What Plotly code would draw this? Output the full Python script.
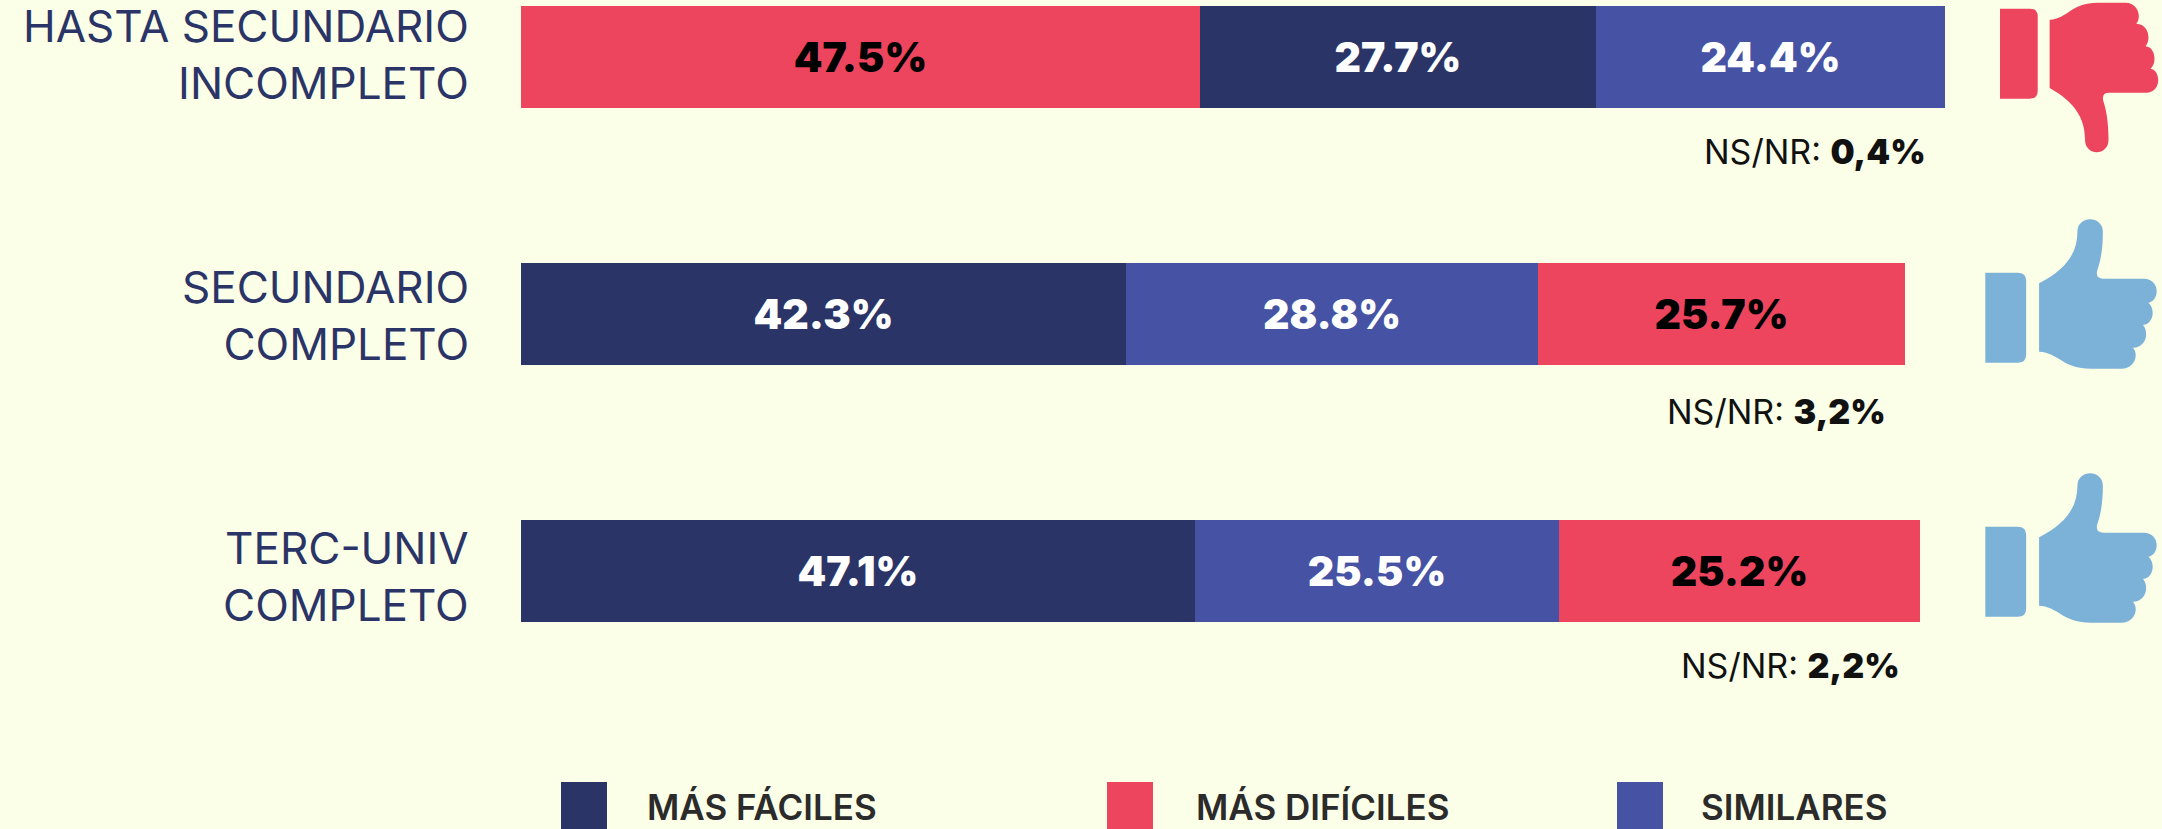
import plotly.graph_objects as go

categories = ["HASTA SECUNDARIO<br>INCOMPLETO", "SECUNDARIO<br>COMPLETO", "TERC-UNIV<br>COMPLETO"]
mas_faciles = [27.7, 42.3, 47.1]
mas_dificiles = [47.5, 25.7, 25.2]
similares = [24.4, 28.8, 25.5]
ns_nr = [0.4, 3.2, 2.2]
ns_labels = ["0,4%", "3,2%", "2,2%"]
series_names = ["MÁS FÁCILES", "MÁS DIFÍCILES", "SIMILARES"]
row_order = [[1, 0, 2], [0, 2, 1], [0, 2, 1]]

W, H = 2162, 829
BG = "#FBFFE7"
NAVY = "#2B3467"
RED = "#EE455F"
BLUE = "#4653A4"
SKY = "#7DB2D8"
colors = [NAVY, RED, BLUE]
text_colors = ["white", "black", "white"]
series = [mas_faciles, mas_dificiles, similares]
L, R = 521, 1951
FONT = "Inter"

bases = [[0.0] * 3 for _ in series]
for r, order in enumerate(row_order):
    acc = 0.0
    for s in order:
        bases[s][r] = acc
        acc += series[s][r]

fig = go.Figure()
for s, name in enumerate(series_names):
    fig.add_trace(go.Bar(
        y=categories, x=series[s], base=bases[s], name=name, orientation="h", width=0.4,
        marker=dict(color=colors[s], line=dict(width=0)),
        text=[f"{v:.1f}%" for v in series[s]], textposition="inside", insidetextanchor="middle",
        textangle=0, constraintext="none",
        textfont=dict(family=FONT, size=41, color=text_colors[s], weight=900),
        showlegend=False, hoverinfo="skip"))

def px(x): return (x - L) / (R - L)
def py(y): return 1 - y / H

annotations = []
label_shift = [-3, 1.5, 5]
for i, c in enumerate(categories):
    annotations.append(dict(x=px(471), xref="paper", y=c, yref="y", yshift=-label_shift[i],
                            text=c, showarrow=False, xanchor="right", align="right",
                            font=dict(family=FONT, size=44, color=NAVY)))
ns_right = [1928, 1888, 1902]
ns_y = [152, 411, 665]
for i in range(3):
    annotations.append(dict(x=px(ns_right[i]), xref="paper", y=py(ns_y[i]), yref="paper",
                            text=f'NS/NR: <span style="font-weight:900">{ns_labels[i]}</span>',
                            showarrow=False, xanchor="right", yanchor="middle",
                            font=dict(family=FONT, size=34, color="#111111")))

shapes = []
legend_pos = [(561, 645), (1107, 1194), (1617, 1699)]
for s, (sx, tx) in enumerate(legend_pos):
    shapes.append(dict(type="rect", xref="paper", yref="paper", x0=px(sx), x1=px(sx + 46),
                       y0=py(782), y1=py(829), fillcolor=colors[s], line=dict(width=0)))
    annotations.append(dict(x=px(tx), xref="paper", y=py(807), yref="paper", text=series_names[s],
                            showarrow=False, xanchor="left", yanchor="middle",
                            font=dict(family=FONT, size=35, color="#2B2B2B", weight=600)))

# thumb outline in zoom-crop units: X maps to 1600+X/2.79, Y maps to Y/3
CUFF = [("M", 1075, 818), ("L", 1165, 818), ("Q", 1189, 818, 1189, 842), ("L", 1189, 1064),
        ("Q", 1189, 1088, 1165, 1088), ("L", 1075, 1088), ("Z",)]
HAND = [("M", 1225, 850), ("C", 1300, 808, 1332, 760, 1332, 695),
        ("C", 1332, 645, 1403, 645, 1403, 695), ("C", 1403, 750, 1396, 785, 1387, 812),
        ("Q", 1382, 836, 1405, 836), ("L", 1520, 836), ("C", 1565, 840, 1560, 905, 1530, 908),
        ("C", 1550, 925, 1545, 972, 1515, 975), ("C", 1532, 995, 1525, 1042, 1487, 1043),
        ("C", 1505, 1065, 1490, 1106, 1455, 1106), ("L", 1370, 1106),
        ("C", 1290, 1106, 1280, 1058, 1225, 1055), ("Z",)]

def thumb(path, fx, fy, color):
    out = []
    for seg in path:
        out.append(seg[0])
        nums = seg[1:]
        pts = []
        for k in range(0, len(nums), 2):
            a, b = fx(nums[k]), fy(nums[k + 1])
            pts.append(f"{px(1600 + a / 2.79):.5f},{py(b / 3):.5f}")
        out.append(" ".join(pts))
    return dict(type="path", xref="paper", yref="paper", path=" ".join(out),
                fillcolor=color, line=dict(width=0))

for part in (CUFF, HAND):
    shapes.append(thumb(part, lambda X: 1116 + (X - 1075) * 0.923, lambda Y: 1114 - Y, RED))
    shapes.append(thumb(part, lambda X: X, lambda Y: Y, SKY))
    shapes.append(thumb(part, lambda X: X, lambda Y: Y + 762, SKY))

fig.update_layout(
    width=W, height=H, margin=dict(l=L, r=W - R, t=0, b=0, pad=0), autosize=False,
    paper_bgcolor=BG, plot_bgcolor=BG, barmode="overlay", bargap=0,
    xaxis=dict(range=[0, 100], visible=False, fixedrange=True),
    yaxis=dict(range=[772 / 257, -57 / 257], showticklabels=False, ticks="", showgrid=False,
               zeroline=False, showline=False, type="category",
               categoryorder="array", categoryarray=categories, fixedrange=True),
    annotations=annotations, shapes=shapes, hovermode=False,
)
fig.write_html("out.html", config=dict(displayModeBar=False),
               post_script="document.body.style.margin='0';document.body.style.overflow='hidden';"
                           f"document.body.style.background='{BG}';")
